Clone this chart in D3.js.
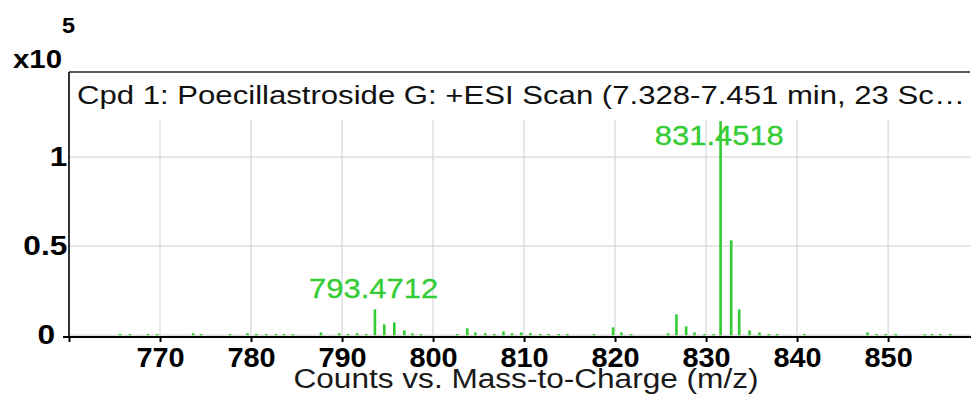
<!DOCTYPE html>
<html>
<head>
<meta charset="utf-8">
<script src="https://cdn.jsdelivr.net/npm/d3@7"></script>
<style>
  html, body { margin: 0; padding: 0; background: #fff; }
  svg { display: block; }
  text { font-family: "Liberation Sans", Arial, Helvetica, sans-serif; }
</style>
</head>
<body>
<svg id="chart" width="971" height="397"></svg>
<script>
// Spectrum peaks: m/z and counts (x10^5)
const peakMz = [
  765.47, 766.57, 768.52, 769.54, 773.50, 774.38, 777.54, 779.47, 780.43, 781.53,
  782.59, 783.50, 784.46, 787.54, 789.55, 790.50, 791.52, 792.52, 793.4712, 794.50,
  795.60, 796.70, 797.60, 798.53, 802.52, 803.62, 804.50, 805.60, 806.60, 807.60,
  808.54, 809.56, 810.55, 811.65, 812.56, 813.66, 814.62, 817.55, 819.64, 820.55,
  821.62, 825.69, 826.60, 827.67, 828.58, 829.68, 830.67, 831.4518, 832.62, 833.50,
  834.63, 835.73, 836.75, 837.67, 840.67, 847.60, 848.60, 849.60, 850.70, 853.90,
  854.70, 855.60, 856.70
];
const peakCounts = [
  0.004, 0.004, 0.004, 0.004, 0.008, 0.004, 0.004, 0.008, 0.004, 0.004,
  0.004, 0.004, 0.004, 0.013, 0.008, 0.004, 0.008, 0.004, 0.142, 0.058,
  0.069, 0.024, 0.008, 0.004, 0.004, 0.036, 0.013, 0.008, 0.004, 0.019,
  0.008, 0.013, 0.009, 0.004, 0.004, 0.004, 0.004, 0.004, 0.041, 0.013,
  0.004, 0.008, 0.114, 0.047, 0.013, 0.004, 0.004, 1.2, 0.53, 0.142,
  0.024, 0.013, 0.004, 0.004, 0.004, 0.013, 0.004, 0.004, 0.004, 0.004,
  0.004, 0.004, 0.004
];
// Annotated peaks
const labelMz = [793.4712, 831.4518];
const labelText = ["793.4712", "831.4518"];

const xTicks = [760, 770, 780, 790, 800, 810, 820, 830, 840, 850];
const xTickLabels = ["", "770", "780", "790", "800", "810", "820", "830", "840", "850"];
const yTicks = [0, 0.5, 1];
const yTickLabels = ["0", "0.5", "1"];

const titleText = "Cpd 1: Poecillastroside G: +ESI Scan (7.328-7.451 min, 23 Sc\u2026";
const xTitle = "Counts vs. Mass-to-Charge (m/z)";

const green = "#33cc33";
const gridColor = "#dadada";

const left = 69, right = 970, frameTop = 72, plotTop = 120, base = 334.7;

const svg = d3.select("#chart");
const x = d3.scaleLinear().domain([760, 859]).range([left, right]);
const y = d3.scaleLinear().domain([0, 1.2]).range([base, 121.1]);

// grid
const grid = svg.append("g");
grid.selectAll("line.v").data(xTicks.slice(1)).join("line")
  .attr("x1", d => x(d)).attr("x2", d => x(d))
  .attr("y1", plotTop).attr("y2", base)
  .attr("stroke", gridColor).attr("stroke-width", 1.3);
grid.selectAll("line.h").data(yTicks).join("line")
  .attr("x1", left).attr("x2", 971)
  .attr("y1", d => y(d) + 0.5).attr("y2", d => y(d) + 0.5)
  .attr("stroke", gridColor).attr("stroke-width", 1.3);

// title band frame
svg.append("line").attr("x1", left).attr("x2", right).attr("y1", frameTop).attr("y2", frameTop)
  .attr("stroke", "#222").attr("stroke-width", 1.5);
svg.append("text").attr("x", 77).attr("y", 104)
  .attr("font-size", 25.5).attr("fill", "#111")
  .attr("textLength", 888).attr("lengthAdjust", "spacingAndGlyphs")
  .text(titleText);

// peaks
svg.append("g").selectAll("rect").data(peakMz).join("rect")
  .attr("x", d => x(d))
  .attr("width", 2.6)
  .attr("y", (d, i) => y(peakCounts[i]))
  .attr("height", (d, i) => base + 0.6 - y(peakCounts[i]))
  .attr("fill", green);

// peak annotations
svg.append("g").selectAll("text").data(labelMz).join("text")
  .attr("x", d => x(d))
  .attr("y", d => Math.max(y(peakCounts[peakMz.indexOf(d)]) - 11, 144.5))
  .attr("text-anchor", "middle")
  .attr("font-size", 27.5)
  .attr("fill", green)
  .attr("stroke", green).attr("stroke-width", 0.3)
  .attr("textLength", 129).attr("lengthAdjust", "spacingAndGlyphs")
  .text((d, i) => labelText[i]);

// x axis
const xAxis = d3.axisBottom(x).tickValues(xTicks)
  .tickFormat((d, i) => xTickLabels[i]).tickSize(5).tickPadding(5.5);
const gx = svg.append("g").attr("transform", `translate(0,${base + 2.3})`).call(xAxis);
gx.select(".domain").remove();
gx.append("line").attr("x1", 63).attr("x2", 971).attr("y1", 0).attr("y2", 0)
  .attr("stroke", "#000").attr("stroke-width", 2.2);
gx.selectAll(".tick line").attr("stroke", "#000").attr("stroke-width", 2);
gx.selectAll(".tick text")
  .attr("font-size", 27).attr("font-weight", "bold").attr("fill", "#000")
  .attr("font-family", "'Liberation Sans', Arial, sans-serif")
  .attr("transform", "scale(1.07,1)");

// y axis (labels only; the zero tick comes from the extended x axis line)
const yAxis = d3.axisLeft(y).tickValues(yTicks)
  .tickFormat((d, i) => yTickLabels[i]).tickSize(0).tickPadding(0);
const gy = svg.append("g").attr("transform", `translate(${left},0)`).call(yAxis);
gy.select(".domain").remove();
gy.selectAll(".tick line").remove();
gy.append("line").attr("x1", 0).attr("x2", 0).attr("y1", frameTop).attr("y2", base + 3)
  .attr("stroke", "#000").attr("stroke-width", 1.6);
gy.selectAll(".tick text")
  .attr("font-size", 27.5).attr("font-weight", "bold").attr("fill", "#000")
  .attr("font-family", "'Liberation Sans', Arial, sans-serif")
  .attr("x", d => d === 0 ? -12 : -1.5)
  .attr("transform", "scale(1.15,1)");

// exponent
svg.append("text").attr("x", 13).attr("y", 68).attr("font-size", 26).attr("font-weight", "bold")
  .attr("textLength", 49).attr("lengthAdjust", "spacingAndGlyphs").text("x10");
svg.append("text").attr("x", 62).attr("y", 33).attr("font-size", 21.5).attr("font-weight", "bold")
  .attr("textLength", 13).attr("lengthAdjust", "spacingAndGlyphs").text("5");

// x axis title
svg.append("text").attr("x", 526).attr("y", 388).attr("text-anchor", "middle")
  .attr("font-size", 27).attr("fill", "#1a1a1a")
  .attr("textLength", 465).attr("lengthAdjust", "spacingAndGlyphs")
  .text(xTitle);
</script>
</body>
</html>
